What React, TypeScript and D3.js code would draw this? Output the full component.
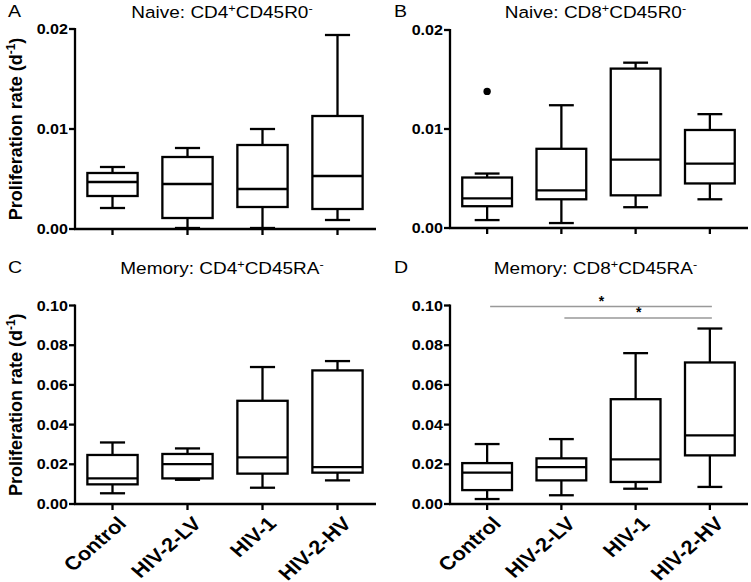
import React from 'react';
import * as d3 from 'd3';

// group names along the x axis
const groups = ['Control', 'HIV-2-LV', 'HIV-1', 'HIV-2-HV'];

// box stats per group: [whisker low, q1, median, q3, whisker high]
const naiveCD4 = [
  [0.0021, 0.0033, 0.0047, 0.0056, 0.0062],
  [0.0001, 0.0011, 0.0045, 0.0072, 0.0081],
  [0.0001, 0.0022, 0.0040, 0.0084, 0.0100],
  [0.0009, 0.0020, 0.0053, 0.0113, 0.0194],
];
const naiveCD8 = [
  [0.0008, 0.0022, 0.0030, 0.0051, 0.0055],
  [0.0005, 0.0029, 0.0038, 0.0080, 0.0124],
  [0.0021, 0.0033, 0.0069, 0.0161, 0.0167],
  [0.0029, 0.0045, 0.0065, 0.0099, 0.0115],
];
const memoryCD4 = [
  [0.0054, 0.0099, 0.0129, 0.0247, 0.0310],
  [0.0122, 0.0129, 0.0201, 0.0252, 0.0280],
  [0.0082, 0.0153, 0.0235, 0.0520, 0.0690],
  [0.0119, 0.0158, 0.0186, 0.0673, 0.0720],
];
const memoryCD8 = [
  [0.0025, 0.0070, 0.0158, 0.0206, 0.0302],
  [0.0044, 0.0119, 0.0186, 0.0230, 0.0327],
  [0.0077, 0.0111, 0.0225, 0.0528, 0.0760],
  [0.0086, 0.0245, 0.0346, 0.0713, 0.0884],
];

// outliers: [group index, value]
const naiveCD8Outliers: [number, number][] = [[0, 0.0138]];

// significance brackets for panel D: [from group, to group]
const memoryCD8Sig: [number, number][] = [[0, 3], [1, 3]];

const naiveTicks = [0, 0.01, 0.02];
const memoryTicks = [0, 0.02, 0.04, 0.06, 0.08, 0.1];

const FONT = '"Liberation Sans", Arial, Helvetica, sans-serif';
const SX = 1.15; // the figure's text is a bit wider than plain Arial

type PanelProps = {
  letter: string;
  title: React.ReactNode;
  data: number[][];
  ticks: number[];
  left: number;
  right: number;
  top: number;
  bottom: number;
  yMax: number;
  titleY: number;
  showYLabel?: boolean;
  showXLabels?: boolean;
  outliers?: [number, number][];
  sig?: [number, number][];
};

const Panel = ({ letter, title, data, ticks, left, right, top, bottom, yMax, titleY,
  showYLabel, showXLabels, outliers = [], sig = [] }: PanelProps) => {
  const x = d3.scaleBand().domain(groups).range([left, right]);
  const y = d3.scaleLinear().domain([0, yMax]).range([bottom, top]);
  const fmt = d3.format('.2f');
  const boxW = x.step() * 0.67;
  const capW = boxW / 2;
  const cx = (g: string) => (x(g) as number) + x.bandwidth() / 2;
  const midY = (top + bottom) / 2;
  const letterX = left < 200 ? 8 : 394;
  const sw = 2.3;

  return (
    <g>
      <g transform={`translate(${letterX},${titleY - 1}) scale(${SX},1)`}>
        <text fontSize={17} fontFamily={FONT}>{letter}</text>
      </g>
      <g transform={`translate(${(left + right) / 2 - 3},${titleY}) scale(${SX},1)`}>
        <text fontSize={16.5} fontFamily={FONT} textAnchor="middle">{title}</text>
      </g>
      {showYLabel && (
        <g transform={`translate(22,${midY}) rotate(-90)`}>
          <text textAnchor="middle" fontSize={18} fontWeight="bold" fontFamily={FONT}>
            Proliferation rate (d<tspan fontSize={12} dy={-7}>-1</tspan><tspan dy={7}>)</tspan>
          </text>
        </g>
      )}

      {/* y axis */}
      <line x1={left} x2={left} y1={top - 1} y2={bottom} stroke="#000" strokeWidth={sw} />
      {ticks.map(t => (
        <g key={t}>
          <line x1={left - 6} x2={left} y1={y(t)} y2={y(t)} stroke="#000" strokeWidth={sw} />
          <g transform={`translate(${left - 7},${y(t)}) scale(${SX},1)`}>
            <text dy="0.36em" textAnchor="end" fontSize={14}
              fontWeight="bold" fontFamily={FONT}>{fmt(t)}</text>
          </g>
        </g>
      ))}

      {/* x axis */}
      <line x1={left - 1} x2={right + 1} y1={bottom} y2={bottom} stroke="#000" strokeWidth={sw} />
      {groups.map(g => (
        <g key={g}>
          <line x1={cx(g)} x2={cx(g)} y1={bottom} y2={bottom + 6} stroke="#000" strokeWidth={sw} />
          {showXLabels && (
            <g transform={`translate(${cx(g) + 4},${bottom + 11}) scale(${SX},1) rotate(-45)`}>
              <text textAnchor="end" dy="0.72em" fontSize={19} fontWeight="bold" fontFamily={FONT}>{g}</text>
            </g>
          )}
        </g>
      ))}

      {/* boxes */}
      {data.map((d, i) => {
        const c = cx(groups[i]);
        const [lo, q1, med, q3, hi] = d;
        return (
          <g key={i} stroke="#000" strokeWidth={sw} fill="#fff">
            <line x1={c} x2={c} y1={y(hi)} y2={y(q3)} />
            <line x1={c} x2={c} y1={y(q1)} y2={y(lo)} />
            <line x1={c - capW / 2} x2={c + capW / 2} y1={y(hi)} y2={y(hi)} />
            <line x1={c - capW / 2} x2={c + capW / 2} y1={y(lo)} y2={y(lo)} />
            <rect x={c - boxW / 2} y={y(q3)} width={boxW} height={y(q1) - y(q3)} />
            <line x1={c - boxW / 2} x2={c + boxW / 2} y1={y(med)} y2={y(med)} />
          </g>
        );
      })}

      {outliers.map(([gi, v], i) => (
        <circle key={i} cx={cx(groups[gi])} cy={y(v)} r={3.7} fill="#000" />
      ))}

      {sig.map(([a, b], i) => {
        const ly = top + 1 + i * 11.5;
        return (
          <g key={i}>
            <line x1={cx(groups[a]) + 3} x2={cx(groups[b]) + 2} y1={ly} y2={ly} stroke="#999" strokeWidth={1.5} />
            <text x={(cx(groups[a]) + cx(groups[b])) / 2 + 3} y={ly - 1} textAnchor="middle"
              fontSize={14} fontWeight="bold" fontFamily={FONT}>*</text>
          </g>
        );
      })}
    </g>
  );
};

const sup = (s: string) => <tspan fontSize={11} dy={-6}>{s}</tspan>;
const back = (s: string) => <tspan dy={6}>{s}</tspan>;

export default function App() {
  return (
    <svg width={751} height={582} style={{ position: 'absolute', left: 0, top: 0, background: '#fff' }}>
      <Panel letter="A" title={<>Naive: CD4{sup('+')}{back('CD45R0')}{sup('-')}</>}
        data={naiveCD4} ticks={naiveTicks} yMax={0.02}
        left={75} right={375} top={29} bottom={229} titleY={18} showYLabel />
      <Panel letter="B" title={<>Naive: CD8{sup('+')}{back('CD45R0')}{sup('-')}</>}
        data={naiveCD8} ticks={naiveTicks} yMax={0.02}
        left={450} right={747} top={30} bottom={228} titleY={18} outliers={naiveCD8Outliers} />
      <Panel letter="C" title={<>Memory: CD4{sup('+')}{back('CD45RA')}{sup('-')}</>}
        data={memoryCD4} ticks={memoryTicks} yMax={0.1}
        left={75} right={375} top={305.5} bottom={504} titleY={274} showYLabel showXLabels />
      <Panel letter="D" title={<>Memory: CD8{sup('+')}{back('CD45RA')}{sup('-')}</>}
        data={memoryCD8} ticks={memoryTicks} yMax={0.1}
        left={450} right={747} top={305.5} bottom={504} titleY={274} showXLabels sig={memoryCD8Sig} />
    </svg>
  );
}
